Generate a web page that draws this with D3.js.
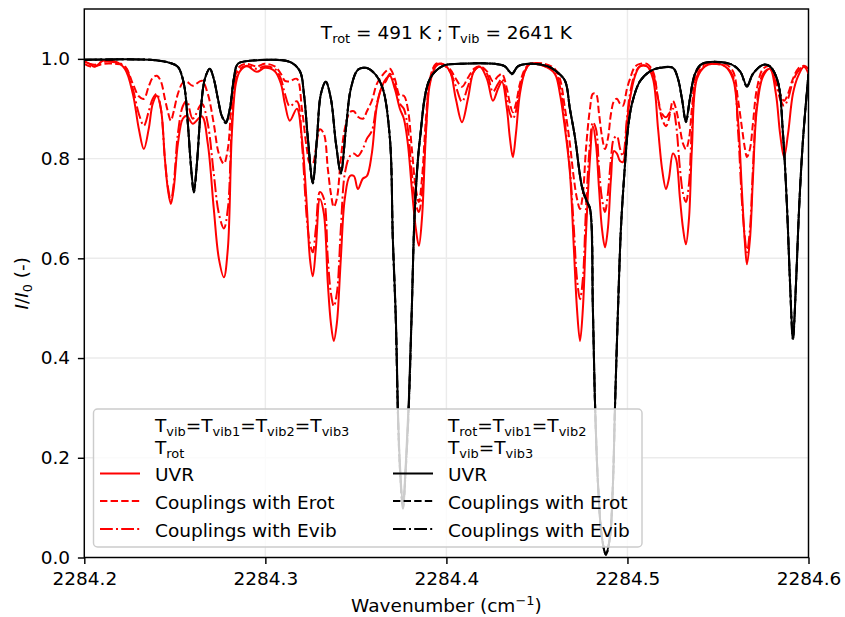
<!DOCTYPE html>
<html>
<head>
<meta charset="utf-8">
<script src="https://cdn.jsdelivr.net/npm/d3@7"></script>
<style>
  html, body { margin: 0; padding: 0; background: #fff; }
  svg text { font-family: "DejaVu Sans", sans-serif; fill: #000; }
</style>
</head>
<body>
<svg id="chart" width="845" height="617"></svg>
<script>
(function () {
    // red curves (T_vib = T_vib1 = T_vib2 = T_vib3) : points
    var redWn = [
        2284.2000, 2284.2030, 2284.2058, 2284.2102, 2284.2169, 2284.2224, 2284.2268, 2284.2301, 2284.2329, 2284.2356,
        2284.2378, 2284.2401, 2284.2423, 2284.2445, 2284.2461, 2284.2478, 2284.2494, 2284.2517, 2284.2544, 2284.2566,
        2284.2599, 2284.2649, 2284.2682, 2284.2715, 2284.2743, 2284.2771, 2284.2793, 2284.2815, 2284.2837, 2284.2859,
        2284.2898, 2284.2953, 2284.2997, 2284.3052, 2284.3086, 2284.3108, 2284.3135, 2284.3174, 2284.3202, 2284.3229,
        2284.3246, 2284.3262, 2284.3279, 2284.3301, 2284.3323, 2284.3345, 2284.3362, 2284.3378, 2284.3395, 2284.3417,
        2284.3439, 2284.3467, 2284.3489, 2284.3511, 2284.3539, 2284.3561, 2284.3588, 2284.3616, 2284.3644, 2284.3666,
        2284.3688, 2284.3715, 2284.3743, 2284.3765, 2284.3787, 2284.3809, 2284.3831, 2284.3848, 2284.3865, 2284.3887,
        2284.3909, 2284.3942, 2284.3975, 2284.4019, 2284.4052, 2284.4086, 2284.4119, 2284.4152, 2284.4185, 2284.4224,
        2284.4257, 2284.4285, 2284.4307, 2284.4334, 2284.4351, 2284.4367, 2284.4384, 2284.4406, 2284.4434, 2284.4461,
        2284.4544, 2284.4599, 2284.4627, 2284.4655, 2284.4682, 2284.4704, 2284.4721, 2284.4738, 2284.4754, 2284.4771,
        2284.4793, 2284.4809, 2284.4826, 2284.4843, 2284.4859, 2284.4876, 2284.4892, 2284.4909, 2284.4925, 2284.4942,
        2284.4959, 2284.4975, 2284.4997, 2284.5014, 2284.5041, 2284.5069, 2284.5108, 2284.5141, 2284.5169, 2284.5191,
        2284.5213, 2284.5229, 2284.5251, 2284.5268, 2284.5290, 2284.5307, 2284.5323, 2284.5340, 2284.5356, 2284.5384,
        2284.5428, 2284.5472, 2284.5539, 2284.5583, 2284.5610, 2284.5633, 2284.5649, 2284.5660, 2284.5677, 2284.5693,
        2284.5715, 2284.5749, 2284.5787, 2284.5820, 2284.5843, 2284.5865, 2284.5887, 2284.5914, 2284.5942, 2284.5975,
        2284.6000
    ];
    var redUVR = [
        0.995, 0.99, 0.984, 0.996, 0.995, 0.98, 0.93, 0.86, 0.819, 0.86,
        0.91, 0.926, 0.90, 0.80, 0.74, 0.709, 0.74, 0.83, 0.88, 0.886,
        0.87, 0.885, 0.83, 0.70, 0.60, 0.562, 0.62, 0.85, 0.95, 0.975,
        0.985, 0.974, 0.982, 0.975, 0.95, 0.91, 0.876, 0.90, 0.84, 0.705,
        0.60, 0.564, 0.62, 0.719, 0.69, 0.55, 0.47, 0.434, 0.47, 0.60,
        0.72, 0.765, 0.765, 0.739, 0.76, 0.765, 0.81, 0.906, 0.945, 0.96,
        0.966, 0.94, 0.90, 0.88, 0.83, 0.74, 0.66, 0.625, 0.68, 0.85,
        0.95, 0.985, 0.99, 0.975, 0.92, 0.873, 0.92, 0.975, 0.984, 0.96,
        0.916, 0.94, 0.954, 0.90, 0.84, 0.803, 0.85, 0.93, 0.975, 0.99,
        0.985, 0.97, 0.93, 0.86, 0.773, 0.62, 0.50, 0.434, 0.50, 0.65,
        0.80, 0.865, 0.83, 0.74, 0.66, 0.622, 0.66, 0.76, 0.815, 0.81,
        0.795, 0.793, 0.87, 0.92, 0.965, 0.985, 0.985, 0.96, 0.86, 0.78,
        0.739, 0.76, 0.81, 0.80, 0.72, 0.66, 0.628, 0.68, 0.82, 0.96,
        0.985, 0.99, 0.985, 0.96, 0.88, 0.73, 0.63, 0.588, 0.64, 0.76,
        0.90, 0.965, 0.98, 0.93, 0.85, 0.803, 0.85, 0.93, 0.965, 0.984,
        0.97
    ];
    var redErot = [
        0.99, 0.985, 0.985, 0.99, 0.99, 0.985, 0.95, 0.925, 0.92, 0.945,
        0.962, 0.966, 0.955, 0.92, 0.895, 0.876, 0.895, 0.93, 0.952, 0.954,
        0.946, 0.956, 0.93, 0.87, 0.81, 0.79, 0.82, 0.92, 0.97, 0.985,
        0.99, 0.985, 0.99, 0.985, 0.97, 0.956, 0.955, 0.96, 0.90, 0.82,
        0.79, 0.79, 0.82, 0.859, 0.85, 0.78, 0.73, 0.703, 0.72, 0.80,
        0.86, 0.893, 0.895, 0.884, 0.88, 0.895, 0.916, 0.95, 0.966, 0.975,
        0.98, 0.96, 0.926, 0.926, 0.90, 0.82, 0.74, 0.713, 0.76, 0.88,
        0.96, 0.99, 0.99, 0.98, 0.96, 0.944, 0.962, 0.98, 0.985, 0.975,
        0.955, 0.965, 0.97, 0.94, 0.91, 0.893, 0.91, 0.95, 0.98, 0.99,
        0.99, 0.98, 0.96, 0.90, 0.83, 0.76, 0.72, 0.699, 0.73, 0.82,
        0.90, 0.93, 0.93, 0.89, 0.845, 0.819, 0.84, 0.89, 0.915, 0.92,
        0.91, 0.906, 0.94, 0.96, 0.984, 0.99, 0.99, 0.975, 0.92, 0.88,
        0.865, 0.88, 0.916, 0.90, 0.86, 0.83, 0.819, 0.84, 0.90, 0.975,
        0.99, 0.99, 0.99, 0.975, 0.92, 0.86, 0.82, 0.803, 0.82, 0.87,
        0.94, 0.98, 0.985, 0.96, 0.93, 0.916, 0.93, 0.96, 0.98, 0.986,
        0.98
    ];
    var redEvib = [
        0.995, 0.99, 0.988, 0.994, 0.993, 0.985, 0.94, 0.89, 0.866, 0.895,
        0.92, 0.93, 0.90, 0.80, 0.745, 0.715, 0.75, 0.85, 0.905, 0.916,
        0.88, 0.91, 0.87, 0.77, 0.69, 0.66, 0.70, 0.87, 0.96, 0.98,
        0.986, 0.98, 0.985, 0.98, 0.96, 0.93, 0.905, 0.915, 0.83, 0.68,
        0.63, 0.612, 0.66, 0.733, 0.72, 0.60, 0.53, 0.504, 0.53, 0.66,
        0.77, 0.805, 0.81, 0.805, 0.82, 0.84, 0.855, 0.91, 0.944, 0.955,
        0.97, 0.95, 0.91, 0.90, 0.86, 0.77, 0.71, 0.693, 0.73, 0.86,
        0.955, 0.988, 0.99, 0.975, 0.945, 0.914, 0.945, 0.975, 0.984, 0.97,
        0.934, 0.95, 0.96, 0.92, 0.89, 0.88, 0.895, 0.94, 0.975, 0.99,
        0.985, 0.975, 0.945, 0.87, 0.78, 0.66, 0.56, 0.518, 0.56, 0.70,
        0.83, 0.873, 0.86, 0.78, 0.72, 0.693, 0.73, 0.80, 0.84, 0.845,
        0.82, 0.805, 0.88, 0.93, 0.97, 0.985, 0.985, 0.97, 0.92, 0.89,
        0.883, 0.89, 0.90, 0.87, 0.78, 0.73, 0.713, 0.75, 0.86, 0.965,
        0.988, 0.99, 0.985, 0.965, 0.86, 0.71, 0.64, 0.612, 0.66, 0.78,
        0.91, 0.97, 0.98, 0.95, 0.92, 0.906, 0.92, 0.955, 0.975, 0.985,
        0.975
    ];

    // black curves (T_rot = T_vib1 = T_vib2, T_vib = T_vib3)
    var blackWn = [
        2284.2000, 2284.2362, 2284.2472, 2284.2517, 2284.2550, 2284.2572, 2284.2588, 2284.2605, 2284.2622, 2284.2644,
        2284.2666, 2284.2693, 2284.2715, 2284.2738, 2284.2760, 2284.2782, 2284.2804, 2284.2826, 2284.2848, 2284.2914,
        2284.3135, 2284.3191, 2284.3213, 2284.3235, 2284.3262, 2284.3285, 2284.3307, 2284.3334, 2284.3362, 2284.3390,
        2284.3417, 2284.3445, 2284.3472, 2284.3511, 2284.3555, 2284.3605, 2284.3649, 2284.3688, 2284.3704, 2284.3721,
        2284.3732, 2284.3743, 2284.3760, 2284.3776, 2284.3793, 2284.3809, 2284.3826, 2284.3854, 2284.3909, 2284.3981,
        2284.4075, 2284.4268, 2284.4323, 2284.4362, 2284.4395, 2284.4461, 2284.4561, 2284.4610, 2284.4655, 2284.4682,
        2284.4710, 2284.4749, 2284.4776, 2284.4793, 2284.4809, 2284.4820, 2284.4837, 2284.4859, 2284.4881, 2284.4903,
        2284.4920, 2284.4931, 2284.4948, 2284.4964, 2284.4981, 2284.5003, 2284.5025, 2284.5069, 2284.5124, 2284.5180,
        2284.5251, 2284.5279, 2284.5301, 2284.5323, 2284.5345, 2284.5373, 2284.5412, 2284.5566, 2284.5622, 2284.5660,
        2284.5693, 2284.5749, 2284.5787, 2284.5831, 2284.5859, 2284.5881, 2284.5898, 2284.5914, 2284.5931, 2284.5948,
        2284.5970, 2284.6000
    ];
    var blackUVR = [
        0.998, 0.998, 0.992, 0.984, 0.95, 0.87, 0.79, 0.735, 0.79, 0.90,
        0.96, 0.98, 0.96, 0.92, 0.885, 0.874, 0.90, 0.96, 0.99, 0.996,
        0.994, 0.975, 0.93, 0.84, 0.753, 0.84, 0.93, 0.954, 0.92, 0.83,
        0.773, 0.86, 0.94, 0.978, 0.982, 0.97, 0.94, 0.84, 0.64, 0.48,
        0.30, 0.19, 0.105, 0.19, 0.32, 0.50, 0.70, 0.84, 0.96, 0.986,
        0.99, 0.99, 0.985, 0.971, 0.985, 0.99, 0.985, 0.974, 0.956, 0.90,
        0.843, 0.743, 0.715, 0.70, 0.50, 0.32, 0.15, 0.04, 0.008, 0.04,
        0.15, 0.30, 0.50, 0.66, 0.76, 0.86, 0.91, 0.955, 0.975, 0.982,
        0.982, 0.96, 0.92, 0.875, 0.92, 0.97, 0.99, 0.99, 0.975, 0.946,
        0.97, 0.988, 0.985, 0.954, 0.85, 0.705, 0.55, 0.44, 0.55, 0.70,
        0.84, 0.97
    ];
    var blackErot = [
        0.998, 0.998, 0.992, 0.984, 0.95, 0.87, 0.79, 0.733, 0.79, 0.90,
        0.96, 0.98, 0.96, 0.92, 0.885, 0.872, 0.90, 0.96, 0.99, 0.996,
        0.994, 0.975, 0.93, 0.84, 0.752, 0.84, 0.93, 0.954, 0.92, 0.83,
        0.772, 0.86, 0.94, 0.978, 0.982, 0.97, 0.94, 0.84, 0.64, 0.47,
        0.29, 0.18, 0.100, 0.18, 0.31, 0.50, 0.70, 0.84, 0.96, 0.986,
        0.99, 0.99, 0.985, 0.970, 0.985, 0.99, 0.985, 0.974, 0.956, 0.90,
        0.843, 0.743, 0.713, 0.70, 0.50, 0.32, 0.15, 0.04, 0.006, 0.04,
        0.15, 0.30, 0.50, 0.66, 0.76, 0.86, 0.91, 0.955, 0.975, 0.982,
        0.982, 0.96, 0.92, 0.874, 0.92, 0.97, 0.99, 0.99, 0.975, 0.945,
        0.97, 0.988, 0.985, 0.954, 0.85, 0.705, 0.55, 0.438, 0.55, 0.70,
        0.84, 0.97
    ];
    var blackEvib = [
        0.998, 0.998, 0.992, 0.984, 0.95, 0.87, 0.79, 0.732, 0.79, 0.90,
        0.96, 0.98, 0.96, 0.92, 0.885, 0.871, 0.90, 0.96, 0.99, 0.996,
        0.994, 0.975, 0.93, 0.84, 0.750, 0.84, 0.93, 0.954, 0.92, 0.83,
        0.770, 0.86, 0.94, 0.978, 0.982, 0.97, 0.94, 0.84, 0.64, 0.47,
        0.29, 0.18, 0.098, 0.18, 0.31, 0.50, 0.70, 0.84, 0.96, 0.986,
        0.99, 0.99, 0.985, 0.969, 0.985, 0.99, 0.985, 0.974, 0.956, 0.90,
        0.843, 0.743, 0.712, 0.70, 0.50, 0.32, 0.15, 0.04, 0.005, 0.04,
        0.15, 0.30, 0.50, 0.66, 0.76, 0.86, 0.91, 0.955, 0.975, 0.982,
        0.982, 0.96, 0.92, 0.873, 0.92, 0.97, 0.99, 0.99, 0.975, 0.944,
        0.97, 0.988, 0.985, 0.954, 0.85, 0.705, 0.55, 0.436, 0.55, 0.70,
        0.84, 0.97
    ];

    var xTicks = [2284.2, 2284.3, 2284.4, 2284.5, 2284.6],
        yTicks = [0.0, 0.2, 0.4, 0.6, 0.8, 1.0];

    var W = 845, H = 617,
        m = {l: 84.3, r: 36.5, t: 9, b: 59.5},
        fs = 18.5, // font size (px)
        lw = 2; // line width

    var x = d3.scaleLinear().domain([2284.2, 2284.6]).range([m.l, W - m.r]),
        y = d3.scaleLinear().domain([0, 1.1]).range([H - m.b, m.t]);

    var DASHED = "7.4,3.2", DASHDOT = "12.8,3.2,2,3.2";

    var series = [
        {wn: redWn, v: redUVR, color: "#ff0000", dash: null},
        {wn: redWn, v: redErot, color: "#ff0000", dash: DASHED},
        {wn: redWn, v: redEvib, color: "#ff0000", dash: DASHDOT},
        {wn: blackWn, v: blackUVR, color: "#000000", dash: null},
        {wn: blackWn, v: blackErot, color: "#000000", dash: DASHED},
        {wn: blackWn, v: blackEvib, color: "#000000", dash: DASHDOT}
    ];

    var svg = d3.select("#chart");

    svg.append("defs").append("clipPath").attr("id", "plotclip")
        .append("rect")
        .attr("x", m.l).attr("y", m.t)
        .attr("width", W - m.r - m.l).attr("height", H - m.b - m.t);

    // grid
    var grid = svg.append("g").attr("class", "grid");
    grid.selectAll("line.gx").data(xTicks).enter().append("line")
        .attr("x1", function (d) { return x(d); }).attr("x2", function (d) { return x(d); })
        .attr("y1", m.t).attr("y2", H - m.b)
        .attr("stroke", "#ebebeb").attr("stroke-width", 1.4);
    grid.selectAll("line.gy").data(yTicks).enter().append("line")
        .attr("y1", function (d) { return y(d); }).attr("y2", function (d) { return y(d); })
        .attr("x1", m.l).attr("x2", W - m.r)
        .attr("stroke", "#ebebeb").attr("stroke-width", 1.4);

    // curves
    var line = d3.line().curve(d3.curveCatmullRom.alpha(0.5));
    var curves = svg.append("g").attr("clip-path", "url(#plotclip)");
    series.forEach(function (s) {
        var pts = s.wn.map(function (w, i) { return [x(w), y(s.v[i])]; });
        curves.append("path")
            .attr("d", line(pts))
            .attr("fill", "none")
            .attr("stroke", s.color)
            .attr("stroke-width", lw)
            .attr("stroke-linejoin", "round")
            .attr("stroke-dasharray", s.dash);
    });

    // axes
    var xAxis = d3.axisBottom(x).tickValues(xTicks).tickFormat(d3.format(".1f"))
            .tickSize(6.4).tickSizeOuter(0).tickPadding(8.3),
        yAxis = d3.axisLeft(y).tickValues(yTicks).tickFormat(d3.format(".1f"))
            .tickSize(6.4).tickSizeOuter(0).tickPadding(7.8);

    var gx = svg.append("g").attr("transform", "translate(0," + (H - m.b) + ")").call(xAxis);
    var gy = svg.append("g").attr("transform", "translate(" + m.l + ",0)").call(yAxis);
    [gx, gy].forEach(function (g) {
        g.select(".domain").remove();
        g.selectAll(".tick line").attr("stroke", "#000").attr("stroke-width", 1.45);
        g.selectAll(".tick text").attr("font-size", fs).attr("font-family", "DejaVu Sans");
    });

    // spines
    svg.append("rect")
        .attr("x", m.l).attr("y", m.t)
        .attr("width", W - m.r - m.l).attr("height", H - m.b - m.t)
        .attr("fill", "none").attr("stroke", "#000").attr("stroke-width", 1.45);

    // text with subscripts / superscripts: parts = [[text, shift], ...]
    function richText(sel, parts) {
        var cur = 0;
        parts.forEach(function (p) {
            var shift = p[1] || 0;
            var t = sel.append("tspan").text(p[0]).attr("dy", shift - cur);
            if (shift !== 0) t.attr("font-size", fs * 0.7);
            cur = shift;
        });
        return sel;
    }

    // title inside the axes
    richText(svg.append("text")
        .attr("x", (m.l + W - m.r) / 2).attr("y", 39)
        .attr("text-anchor", "middle").attr("font-size", fs),
        [["T"], ["rot", 4], [" = 491 K ; T"], ["vib", 4], [" = 2641 K"]]);

    // axis labels
    richText(svg.append("text")
        .attr("x", (m.l + W - m.r) / 2).attr("y", 612)
        .attr("text-anchor", "middle").attr("font-size", fs),
        [["Wavenumber (cm"], ["\u22121", -7], [")"]]);

    var yl = svg.append("text")
        .attr("transform", "translate(28," + ((m.t + H - m.b) / 2) + ") rotate(-90)")
        .attr("text-anchor", "middle").attr("font-size", fs);
    yl.append("tspan").attr("font-style", "italic").text("I");
    yl.append("tspan").text("/");
    yl.append("tspan").attr("font-style", "italic").text("I");
    yl.append("tspan").attr("font-size", fs * 0.7).attr("dy", 4).text("0");
    yl.append("tspan").attr("dy", -4).text(" (-)");

    // legend
    var lg = svg.append("g").attr("class", "legend");
    lg.append("rect")
        .attr("x", 93.5).attr("y", 409).attr("width", 548.5).attr("height", 138).attr("rx", 4)
        .attr("fill", "#fff").attr("fill-opacity", 0.8)
        .attr("stroke", "#cccccc").attr("stroke-width", 1.45);

    var cols = [
        {hx: 100, tx: 155, color: "#ff0000",
         head: [[["T"], ["vib", 4], ["=T"], ["vib1", 4], ["=T"], ["vib2", 4], ["=T"], ["vib3", 4]],
                [["T"], ["rot", 4]]]},
        {hx: 393, tx: 448, color: "#000000",
         head: [[["T"], ["rot", 4], ["=T"], ["vib1", 4], ["=T"], ["vib2", 4]],
                [["T"], ["vib", 4], ["=T"], ["vib3", 4]]]}
    ];
    var headY = [431.5, 453.5],
        rowY = [481, 508.5, 536.5],
        rowLabels = ["UVR", "Couplings with Erot", "Couplings with Evib"],
        rowDash = [null, DASHED, DASHDOT];

    cols.forEach(function (c) {
        c.head.forEach(function (parts, i) {
            richText(lg.append("text").attr("x", c.tx).attr("y", headY[i]).attr("font-size", fs), parts);
        });
        rowLabels.forEach(function (lab, i) {
            lg.append("line")
                .attr("x1", c.hx).attr("x2", c.hx + 40)
                .attr("y1", rowY[i] - 7.5).attr("y2", rowY[i] - 7.5)
                .attr("stroke", c.color).attr("stroke-width", lw)
                .attr("stroke-dasharray", rowDash[i]);
            lg.append("text").attr("x", c.tx).attr("y", rowY[i]).attr("font-size", fs).text(lab);
        });
    });
})();
</script>
</body>
</html>
